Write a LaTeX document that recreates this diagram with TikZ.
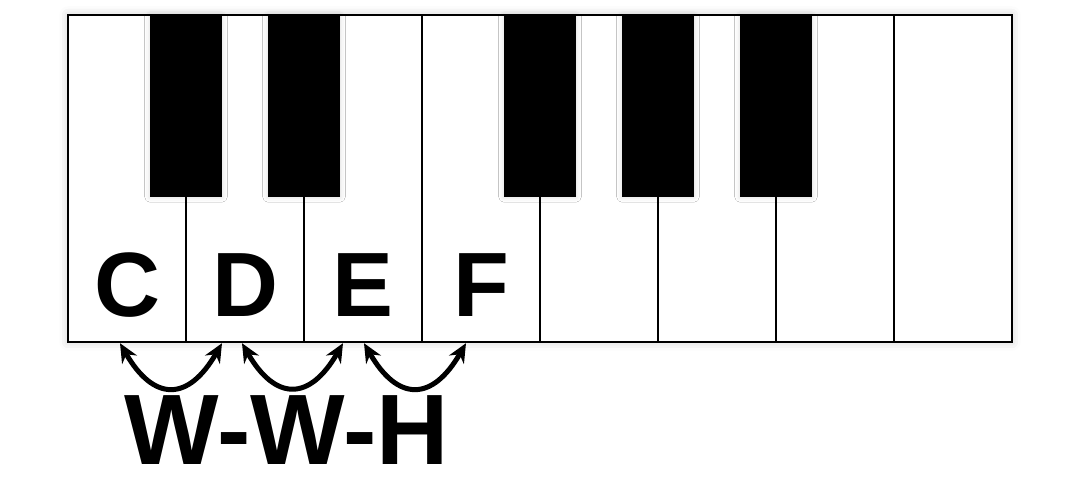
\documentclass[tikz,border=0pt]{standalone}
\usepackage{fontspec}
\setmainfont{Liberation Sans}
\usetikzlibrary{arrows.meta, positioning, shadows.blur}
\tikzstyle{keyboard} = [rectangle, fill=white, minimum width=18.88cm, minimum height=6.54cm, inner sep=0, blur shadow={shadow xshift=0pt, shadow yshift=0pt, shadow blur radius=5pt, shadow opacity=20}]
\tikzstyle{whitekey} = [rectangle, draw, fill=white, minimum width=2.36cm, minimum height=6.54cm, line width=0.5mm, inner sep=0]
\tikzstyle{blackkey} = [rectangle, fill=black, minimum width=1.44cm, minimum height=3.64cm, inner sep=0, blur shadow={shadow xshift=0pt, shadow yshift=0pt, shadow blur radius=3pt, shadow opacity=15}]
\tikzstyle{notename} = [inner sep=0, anchor=base, font=\fontsize{52}{52}\selectfont\bfseries]
\tikzstyle{intervals} = [inner sep=0, anchor=base, font=\fontsize{57}{57}\selectfont\bfseries]
\tikzstyle{steparrow} = [line width=1mm, {Stealth[length=3.8mm, width=3.4mm]}-{Stealth[length=3.8mm, width=3.4mm]}]

\begin{document}
\begin{tikzpicture}[x=0.02cm, y=0.02cm]
    \useasboundingbox (0, 0) rectangle (1080, 500);
    \node[keyboard] at (540, 321.5) (board) {};
    \node[whitekey] at (127, 321.5) (k1) {};
    \node[whitekey] at (245, 321.5) (k2) {};
    \node[whitekey] at (363, 321.5) (k3) {};
    \node[whitekey] at (481, 321.5) (k4) {};
    \node[whitekey] at (599, 321.5) (k5) {};
    \node[whitekey] at (717, 321.5) (k6) {};
    \node[whitekey] at (835, 321.5) (k7) {};
    \node[whitekey] at (953, 321.5) (k8) {};

    \node[blackkey] at (186, 394) (b1) {};
    \node[blackkey] at (304, 394) (b2) {};
    \node[blackkey] at (540, 394) (b3) {};
    \node[blackkey] at (658, 394) (b4) {};
    \node[blackkey] at (776, 394) (b5) {};

    \node[notename] at ([yshift=0.54cm]k1.south) (C) {C};
    \node[notename] at ([yshift=0.54cm]k2.south) (D) {D};
    \node[notename] at ([yshift=0.54cm]k3.south) (E) {E};
    \node[notename] at ([yshift=0.54cm]k4.south) (F) {F};

    \draw[steparrow] ([xshift=-0.14cm]k1.south) to[out=-60, in=-120, looseness=1.7] ([xshift=-0.46cm]k2.south);
    \draw[steparrow] ([xshift=-0.06cm]k2.south) to[out=-60, in=-120, looseness=1.7] ([xshift=-0.40cm]k3.south);
    \draw[steparrow] ([xshift=0.02cm]k3.south) to[out=-60, in=-120, looseness=1.7] ([xshift=-0.30cm]k4.south);

    \node[intervals] at (287, 35) (steps) {W-W-H};
\end{tikzpicture}
\end{document}
